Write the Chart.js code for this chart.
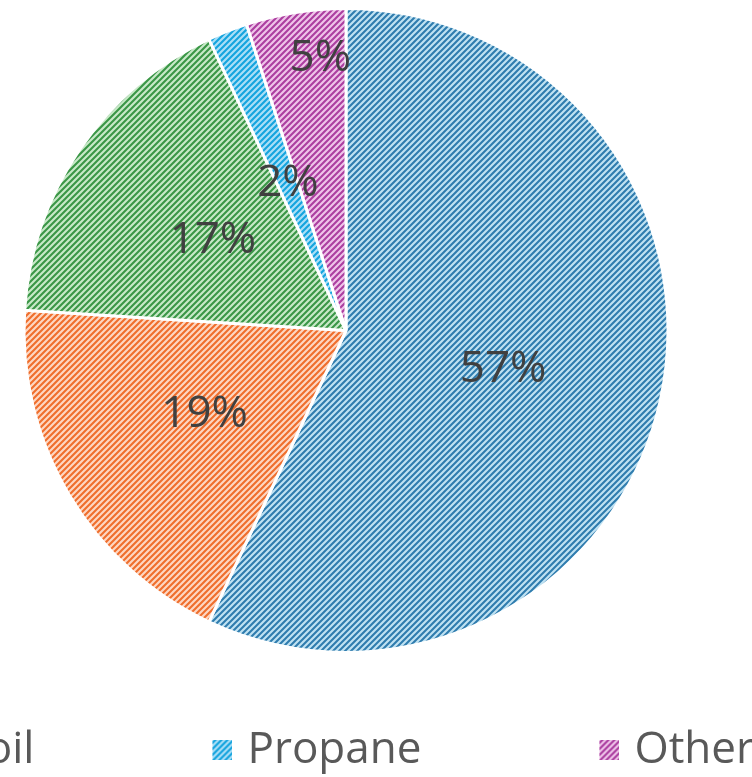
<!DOCTYPE html>
<html><head><meta charset="utf-8">
<script src="https://cdn.jsdelivr.net/npm/chart.js@4/dist/chart.umd.min.js"></script>
<style>
html,body{margin:0;padding:0;overflow:hidden;background:#fff;width:752px;height:777px}
#wrap{position:absolute;top:0;left:-1200px;width:2028px;height:782px}
</style></head><body>
<div id="wrap"><canvas id="c"></canvas></div>
<script>
const categories = ['Natural gas', 'Electricity', 'Fuel oil', 'Propane', 'Other'];
const shares = [57, 19, 17, 2, 5];
const lineColors = ['#2f7cae', '#ef6e2c', '#3a9646', '#14a4de', '#ac3ea0'];
const fillColors = ['#c0e2f2', '#fdd7c3', '#c8e9c8', '#aadff6', '#efc4e9'];

const FONT = '"Open Sans", sans-serif';
const BOXW = 117;
const SHIFT = 7;

function hatchTile(bg, fg) {
  const s = 6, c = document.createElement('canvas');
  c.width = s; c.height = s;
  const x = c.getContext('2d');
  x.fillStyle = bg; x.fillRect(0, 0, s, s);
  x.strokeStyle = fg; x.lineWidth = 2.1;
  x.beginPath();
  x.moveTo(-1, s + 1); x.lineTo(s + 1, -1);
  x.moveTo(-1, 1); x.lineTo(1, -1);
  x.moveTo(s - 1, s + 1); x.lineTo(s + 1, s - 1);
  x.stroke();
  return c;
}
const tmp = document.createElement('canvas').getContext('2d');
const patterns = fillColors.map((b, i) => tmp.createPattern(hatchTile(b, lineColors[i]), 'repeat'));

const legendImgs = fillColors.map((b, i) => {
  const c = document.createElement('canvas');
  const w = BOXW + 2 * SHIFT;
  c.width = w; c.height = 20;
  const x = c.getContext('2d');
  x.fillStyle = x.createPattern(hatchTile(b, lineColors[i]), 'repeat');
  x.fillRect(w - 20, 0, 20, 20);
  return c;
});

const labelPlace = [{r: 0.503, t: 0.507}, {r: 0.51, t: 0.5}, {r: 0.5, t: 0.5}, {r: 0.49, t: 0.5}, {r: 0.85, t: 0.7}];

const sliceLabels = {
  id: 'sliceLabels',
  afterDatasetsDraw(chart) {
    const ctx = chart.ctx;
    const meta = chart.getDatasetMeta(0);
    ctx.save();
    ctx.font = '44px ' + FONT;
    ctx.fillStyle = '#404040';
    ctx.textAlign = 'center';
    ctx.textBaseline = 'middle';
    meta.data.forEach((arc, i) => {
      const p = arc.getProps(['x', 'y', 'startAngle', 'endAngle', 'outerRadius'], true);
      const pl = labelPlace[i];
      const a = p.startAngle + (p.endAngle - p.startAngle) * pl.t;
      const r = p.outerRadius * pl.r;
      ctx.fillText(shares[i] + '%', p.x + Math.cos(a) * r, p.y + Math.sin(a) * r);
    });
    ctx.restore();
  }
};

new Chart(document.getElementById('c'), {
  type: 'pie',
  data: {
    labels: categories,
    datasets: [{
      data: shares,
      backgroundColor: patterns,
      borderColor: '#ffffff',
      borderWidth: 3,
      hoverOffset: 0
    }]
  },
  options: {
    responsive: true,
    maintainAspectRatio: false,
    animation: false,
    layout: {padding: {top: 7, left: 0, right: 0, bottom: 0}},
    plugins: {
      tooltip: {enabled: false},
      title: {
        display: true, position: 'left', text: '',
        font: {size: 10}, padding: {top: 1052, bottom: 0}
      },
      legend: {
        position: 'bottom',
        align: 'end',
        labels: {
          usePointStyle: true,
          pointStyleWidth: BOXW,
          boxHeight: 20,
          padding: 74,
          color: '#595959',
          font: {family: FONT, size: 44},
          generateLabels(chart) {
            const items = Chart.overrides.doughnut.plugins.legend.labels.generateLabels(chart);
            items.forEach((it, i) => { it.pointStyle = legendImgs[i]; it.fontColor = '#595959'; it.lineWidth = 0; });
            return items;
          }
        }
      }
    }
  },
  plugins: [sliceLabels]
});
</script>
</body></html>
